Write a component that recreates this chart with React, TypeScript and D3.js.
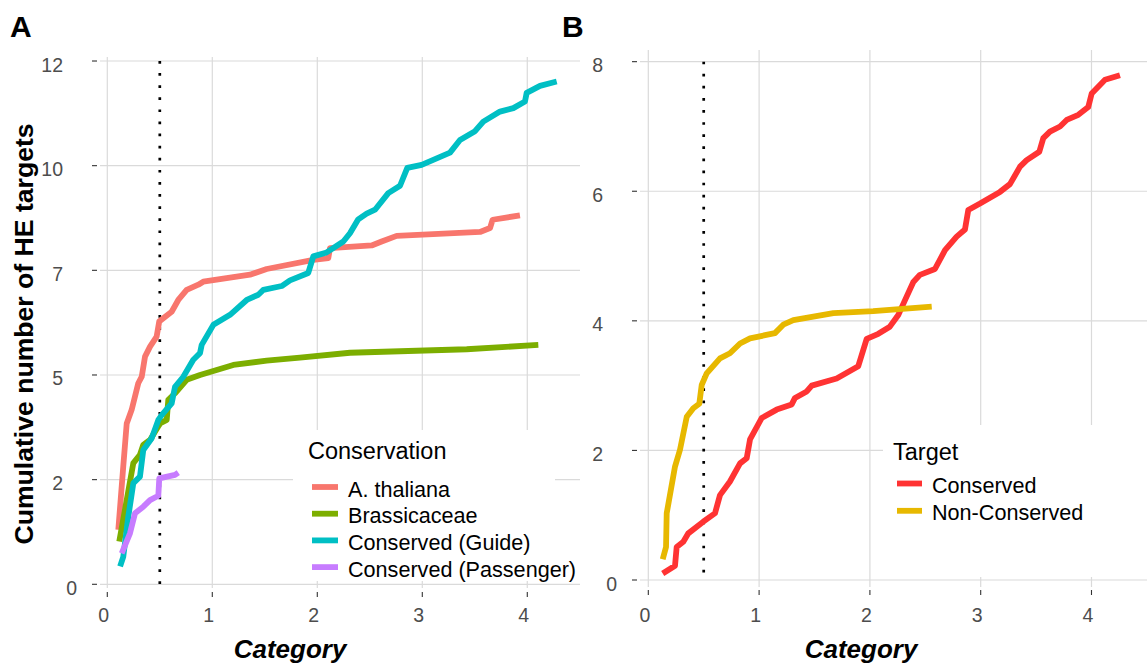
import React from "react";
import * as d3 from "d3";

// ---------- DATA ----------
const xTicks = [0, 1, 2, 3, 4];
const xTickLabels = ["0", "1", "2", "3", "4"];

const aYTicks = [0, 2.4, 4.8, 7.2, 9.6, 12];
const aYTickLabels = ["0", "2", "5", "7", "10", "12"];

const bYTicks = [0, 2, 4, 6, 8];
const bYTickLabels = ["0", "2", "4", "6", "8"];

const conservationNames = ["A. thaliana", "Brassicaceae", "Conserved (Guide)", "Conserved (Passenger)"];
const conservationColors = ["#F8766D", "#7CAE00", "#00BFC4", "#C77CFF"];

const aThaliana: [number, number][] = [
  [0.105, 1.25], [0.152, 2.7], [0.185, 3.69], [0.232, 4.0], [0.295, 4.61], [0.328, 4.76],
  [0.359, 5.22], [0.407, 5.45], [0.47, 5.68], [0.495, 6.03], [0.613, 6.25], [0.676, 6.52],
  [0.756, 6.75], [0.867, 6.87], [0.914, 6.94], [1.359, 7.1], [1.518, 7.23], [1.962, 7.44],
  [2.105, 7.48], [2.121, 7.71], [2.518, 7.77], [2.613, 7.86], [2.756, 7.99], [3.55, 8.08],
  [3.645, 8.17], [3.67, 8.36], [3.93, 8.46],
];
const brassicaceae: [number, number][] = [
  [0.114, 0.98], [0.248, 2.78], [0.311, 2.97], [0.343, 3.2], [0.407, 3.31], [0.454, 3.5],
  [0.502, 3.69], [0.566, 3.77], [0.581, 4.23], [0.645, 4.38], [0.756, 4.69], [0.883, 4.8],
  [1.2, 5.03], [1.518, 5.13], [1.835, 5.2], [2.311, 5.31], [3.423, 5.39], [4.105, 5.49],
];
const conservedGuide: [number, number][] = [
  [0.122, 0.41], [0.152, 0.63], [0.2, 1.55], [0.248, 2.32], [0.311, 2.47], [0.343, 3.08],
  [0.423, 3.35], [0.486, 3.77], [0.518, 3.88], [0.613, 4.15], [0.645, 4.53], [0.724, 4.76],
  [0.819, 5.15], [0.883, 5.3], [0.899, 5.49], [1.01, 5.95], [1.169, 6.18], [1.328, 6.52],
  [1.438, 6.64], [1.486, 6.75], [1.661, 6.84], [1.74, 6.97], [1.914, 7.14], [1.962, 7.52],
  [2.089, 7.61], [2.248, 7.86], [2.311, 8.05], [2.39, 8.37], [2.47, 8.5], [2.55, 8.59],
  [2.676, 8.97], [2.788, 9.14], [2.857, 9.55], [2.994, 9.62], [3.264, 9.9], [3.359, 10.19],
  [3.502, 10.39], [3.581, 10.61], [3.74, 10.84], [3.867, 10.92], [3.978, 11.07], [3.994, 11.27],
  [4.121, 11.43], [4.28, 11.53],
];
const conservedPassenger: [number, number][] = [
  [0.137, 0.71], [0.216, 1.17], [0.264, 1.63], [0.343, 1.78], [0.407, 1.93], [0.486, 2.03],
  [0.495, 2.43], [0.645, 2.51], [0.676, 2.56],
];

const targetNames = ["Conserved", "Non-Conserved"];
const targetColors = ["#FF3333", "#E7B800"];

const targetConserved: [number, number][] = [
  [0.13, 0.1], [0.241, 0.22], [0.256, 0.51], [0.316, 0.59], [0.361, 0.72], [0.496, 0.9],
  [0.602, 1.03], [0.647, 1.31], [0.737, 1.52], [0.828, 1.8], [0.888, 1.88], [0.918, 2.17],
  [1.023, 2.5], [1.159, 2.63], [1.294, 2.71], [1.324, 2.81], [1.43, 2.91], [1.475, 3.0],
  [1.7, 3.11], [1.895, 3.3], [1.971, 3.72], [2.076, 3.8], [2.18, 3.91], [2.256, 4.09],
  [2.317, 4.32], [2.392, 4.6], [2.452, 4.71], [2.587, 4.8], [2.678, 5.09], [2.783, 5.3],
  [2.858, 5.41], [2.888, 5.71], [2.994, 5.81], [3.174, 5.99], [3.264, 6.11], [3.355, 6.38],
  [3.415, 6.48], [3.529, 6.61], [3.565, 6.82], [3.625, 6.92], [3.716, 7.0], [3.776, 7.1],
  [3.881, 7.18], [3.971, 7.3], [4.002, 7.51], [4.122, 7.72], [4.257, 7.79],
];
const targetNonConserved: [number, number][] = [
  [0.13, 0.32], [0.16, 0.51], [0.166, 1.03], [0.241, 1.75], [0.286, 2.01], [0.347, 2.52],
  [0.406, 2.65], [0.46, 2.72], [0.482, 3.01], [0.527, 3.19], [0.647, 3.42], [0.737, 3.5],
  [0.828, 3.65], [0.918, 3.73], [1.143, 3.81], [1.218, 3.94], [1.309, 4.01], [1.67, 4.12],
  [2.03, 4.15], [2.558, 4.22],
];

const cutoff = 0.5;

// ---------- STYLE ----------
const FONT = "'Liberation Sans', Arial, Helvetica, sans-serif";
const GRID = "#DADADA";
const TICKTXT = "#4D4D4D";
const LW = 5.8;

type Series = { name: string; color: string; data: [number, number][] };

type PanelProps = {
  letter: string;
  letterX: number;
  left: number;
  right: number;
  top: number;
  bottom: number;
  xDomain: [number, number];
  yDomain: [number, number];
  yTicks: number[];
  yTickLabels: string[];
  series: Series[];
  titleCenterX: number;
  legendTitle: string;
  legendBox: { x: number; y: number; w: number; h: number };
  legendTitleY: number;
  legendKeyX: number;
  legendFirstY: number;
  legendStep: number;
  legendKeyW: number;
  xTickY0: number;
};

function Panel(p: PanelProps) {
  const x = d3.scaleLinear().domain(p.xDomain).range([p.left, p.right]);
  const y = d3.scaleLinear().domain(p.yDomain).range([p.bottom, p.top]);
  const line = d3
    .line<[number, number]>()
    .x((d) => x(d[0]))
    .y((d) => y(d[1]));
  const yMax = p.yTicks[p.yTicks.length - 1];
  return (
    <g>
      <text x={p.letterX} y={37} fontFamily={FONT} fontWeight="bold" fontSize={30} fill="#000">
        {p.letter}
      </text>
      {/* grid */}
      {p.yTicks.map((t) => (
        <line key={"gy" + t} x1={p.left} x2={p.right} y1={y(t)} y2={y(t)} stroke={GRID} strokeWidth={1.2} />
      ))}
      {xTicks.map((t) => (
        <line key={"gx" + t} x1={x(t)} x2={x(t)} y1={p.top} y2={p.bottom} stroke={GRID} strokeWidth={1.2} />
      ))}
      {/* y ticks */}
      {p.yTicks.map((t, i) => (
        <g key={"yt" + t}>
          <line x1={p.left - 8} x2={p.left - 3} y1={y(t)} y2={y(t)} stroke="#333" strokeWidth={1.1} />
          <text
            x={p.left - 37 + (p.yTickLabels[i] === "0" ? 14 : 0)}
            y={y(t) + 10.5}
            textAnchor="end"
            fontFamily={FONT}
            fontSize={19.5}
            fill={TICKTXT}
          >
            {p.yTickLabels[i]}
          </text>
        </g>
      ))}
      {/* x ticks */}
      {xTicks.map((t, i) => (
        <g key={"xt" + t}>
          <line x1={x(t)} x2={x(t)} y1={p.xTickY0} y2={p.xTickY0 + 5} stroke="#333" strokeWidth={1.1} />
          <text x={x(t) - 3.5} y={622} textAnchor="middle" fontFamily={FONT} fontSize={19.5} fill={TICKTXT}>
            {xTickLabels[i]}
          </text>
        </g>
      ))}
      {/* cutoff */}
      <line
        x1={x(cutoff)}
        x2={x(cutoff)}
        y1={y(yMax)}
        y2={y(0)}
        stroke="#000"
        strokeWidth={2.7}
        strokeDasharray="2.7 9.4"
      />
      {/* series */}
      {p.series.map((s) => (
        <path
          key={s.name}
          d={line(s.data) || ""}
          fill="none"
          stroke={s.color}
          strokeWidth={LW}
          strokeLinejoin="round"
          strokeLinecap="butt"
        />
      ))}
      {/* x title */}
      <text
        x={p.titleCenterX}
        y={658}
        textAnchor="middle"
        fontFamily={FONT}
        fontWeight="bold"
        fontStyle="italic"
        fontSize={26}
        fill="#000"
      >
        Category
      </text>
      {/* legend */}
      <rect x={p.legendBox.x} y={p.legendBox.y} width={p.legendBox.w} height={p.legendBox.h} fill="#fff" />
      <text x={p.legendKeyX - 4} y={p.legendTitleY} fontFamily={FONT} fontSize={23.5} fill="#000">
        {p.legendTitle}
      </text>
      {p.series.map((s, i) => {
        const ky = p.legendFirstY + i * p.legendStep;
        return (
          <g key={"lg" + s.name}>
            <line
              x1={p.legendKeyX}
              x2={p.legendKeyX + p.legendKeyW}
              y1={ky}
              y2={ky}
              stroke={s.color}
              strokeWidth={LW}
            />
            <text x={p.legendKeyX + p.legendKeyW + 10} y={ky + 9.5} fontFamily={FONT} fontSize={21.6} fill="#000">
              {s.name}
            </text>
          </g>
        );
      })}
    </g>
  );
}

export default function App() {
  const seriesA: Series[] = [aThaliana, brassicaceae, conservedGuide, conservedPassenger].map((d, i) => ({
    name: conservationNames[i],
    color: conservationColors[i],
    data: d,
  }));
  const seriesB: Series[] = [targetConserved, targetNonConserved].map((d, i) => ({
    name: targetNames[i],
    color: targetColors[i],
    data: d,
  }));
  return (
    <svg width={1147} height={666} style={{ position: "absolute", left: 0, top: 0, background: "#fff" }}>
      <rect x={0} y={0} width={1147} height={666} fill="#fff" />
      <Panel
        letter="A"
        letterX={10}
        left={100}
        right={580}
        top={57}
        bottom={588}
        xDomain={[-0.0695, 4.502]}
        yDomain={[-0.085, 12.092]}
        yTicks={aYTicks}
        yTickLabels={aYTickLabels}
        series={seriesA}
        titleCenterX={290}
        legendTitle="Conservation"
        legendBox={{ x: 293, y: 430, w: 262, h: 151 }}
        legendTitleY={459}
        legendKeyX={312}
        legendFirstY={487}
        legendStep={26.7}
        legendKeyW={26}
        xTickY0={592}
      />
      <Panel
        letter="B"
        letterX={562}
        left={640}
        right={1147}
        top={50}
        bottom={587}
        xDomain={[-0.075, 4.501]}
        yDomain={[-0.108, 8.18]}
        yTicks={bYTicks}
        yTickLabels={bYTickLabels}
        series={seriesB}
        titleCenterX={861}
        legendTitle="Target"
        legendBox={{ x: 883, y: 425, w: 264, h: 152 }}
        legendTitleY={460}
        legendKeyX={897}
        legendFirstY={483.5}
        legendStep={27.3}
        legendKeyW={25}
        xTickY0={590}
      />
      <text
        transform="translate(33,334) rotate(-90)"
        textAnchor="middle"
        fontFamily={FONT}
        fontWeight="bold"
        fontSize={26.6}
        fill="#000"
      >
        Cumulative number of HE targets
      </text>
    </svg>
  );
}
